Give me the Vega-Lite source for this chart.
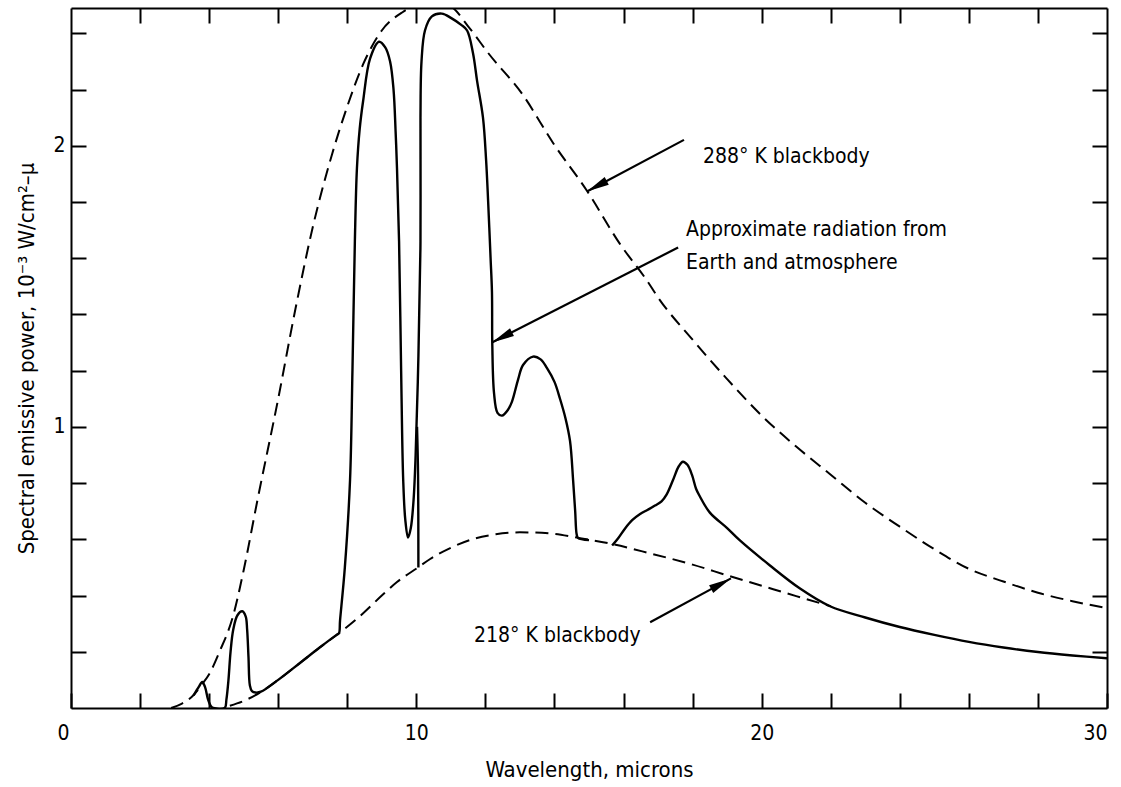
{
  "$schema": "https://vega.github.io/schema/vega-lite/v6.json",
  "width": 1036,
  "height": 700,
  "autosize": {"type": "none"},
  "padding": {"left": 71, "top": 8, "right": 14, "bottom": 79},
  "background": "white",
  "config": {
    "view": {"stroke": null},
    "font": "Liberation Sans Narrow, DejaVu Sans Condensed, sans-serif",
    "axis": {
      "domainColor": "black", "domainWidth": 2, "tickColor": "black", "tickWidth": 2,
      "tickSize": -15, "grid": false, "labelColor": "black", "titleColor": "black",
      "labelFont": "Liberation Sans Narrow, DejaVu Sans Condensed, sans-serif",
      "titleFont": "Liberation Sans Narrow, DejaVu Sans Condensed, sans-serif",
      "labelFontSize": 21, "titleFontSize": 22, "titleFontWeight": "normal"
    }
  },
  "datasets": {
    "bb288": [
      {"wl": 2.9, "p": 0}, {"wl": 3.2, "p": 0.015}, {"wl": 3.5, "p": 0.04}, {"wl": 3.8, "p": 0.085},
      {"wl": 4.0, "p": 0.12}, {"wl": 4.3, "p": 0.2}, {"wl": 4.7, "p": 0.33}, {"wl": 5.0, "p": 0.49},
      {"wl": 5.4, "p": 0.74}, {"wl": 6.0, "p": 1.1}, {"wl": 6.5, "p": 1.42}, {"wl": 7.0, "p": 1.71},
      {"wl": 7.56, "p": 1.97}, {"wl": 8.0, "p": 2.14}, {"wl": 8.46, "p": 2.29}, {"wl": 9.0, "p": 2.41},
      {"wl": 9.6, "p": 2.475}, {"wl": 10.0, "p": 2.5}, {"wl": 10.5, "p": 2.51}, {"wl": 11.0, "p": 2.495},
      {"wl": 11.5, "p": 2.425}, {"wl": 12.08, "p": 2.33}, {"wl": 13.09, "p": 2.18}, {"wl": 13.96, "p": 2.01},
      {"wl": 14.94, "p": 1.84}, {"wl": 15.9, "p": 1.65}, {"wl": 16.68, "p": 1.52}, {"wl": 17.0, "p": 1.46},
      {"wl": 18.0, "p": 1.31}, {"wl": 19.0, "p": 1.17}, {"wl": 20.0, "p": 1.04}, {"wl": 21.0, "p": 0.93},
      {"wl": 22.0, "p": 0.83}, {"wl": 23.0, "p": 0.73}, {"wl": 24.0, "p": 0.645}, {"wl": 25.0, "p": 0.565},
      {"wl": 26.0, "p": 0.495}, {"wl": 27.0, "p": 0.45}, {"wl": 28.0, "p": 0.41}, {"wl": 29.0, "p": 0.38},
      {"wl": 30.0, "p": 0.355}
    ],
    "bb218": [
      {"wl": 4.6, "p": 0.008}, {"wl": 5.0, "p": 0.025}, {"wl": 5.47, "p": 0.055}, {"wl": 6.0, "p": 0.1},
      {"wl": 6.63, "p": 0.16}, {"wl": 7.2, "p": 0.215}, {"wl": 7.76, "p": 0.266}, {"wl": 8.46, "p": 0.337},
      {"wl": 9.0, "p": 0.4}, {"wl": 9.44, "p": 0.448}, {"wl": 10.05, "p": 0.5}, {"wl": 10.4, "p": 0.53},
      {"wl": 11.0, "p": 0.57}, {"wl": 11.7, "p": 0.603}, {"wl": 12.3, "p": 0.618}, {"wl": 13.0, "p": 0.625},
      {"wl": 13.96, "p": 0.62}, {"wl": 14.65, "p": 0.606}, {"wl": 15.6, "p": 0.585}, {"wl": 16.77, "p": 0.55},
      {"wl": 18.0, "p": 0.51}, {"wl": 19.0, "p": 0.472}, {"wl": 20.0, "p": 0.435}, {"wl": 21.0, "p": 0.398},
      {"wl": 22.0, "p": 0.362}
    ],
    "earth": [
      {"seg": "a", "i": 1, "wl": 3.55, "p": 0.045}, {"seg": "a", "i": 2, "wl": 3.7, "p": 0.075},
      {"seg": "a", "i": 3, "wl": 3.8, "p": 0.093}, {"seg": "a", "i": 4, "wl": 3.88, "p": 0.075},
      {"seg": "a", "i": 5, "wl": 3.97, "p": 0.03}, {"seg": "a", "i": 6, "wl": 4.06, "p": 0.005},
      {"seg": "a", "i": 7, "wl": 4.12, "p": 0}, {"seg": "a", "i": 8, "wl": 4.45, "p": 0},
      {"seg": "a", "i": 9, "wl": 4.5, "p": 0.03}, {"seg": "a", "i": 10, "wl": 4.56, "p": 0.1},
      {"seg": "a", "i": 11, "wl": 4.62, "p": 0.2}, {"seg": "a", "i": 12, "wl": 4.7, "p": 0.28},
      {"seg": "a", "i": 13, "wl": 4.82, "p": 0.33}, {"seg": "a", "i": 14, "wl": 4.96, "p": 0.344},
      {"seg": "a", "i": 15, "wl": 5.06, "p": 0.325}, {"seg": "a", "i": 16, "wl": 5.1, "p": 0.28},
      {"seg": "a", "i": 17, "wl": 5.14, "p": 0.18}, {"seg": "a", "i": 18, "wl": 5.18, "p": 0.08},
      {"seg": "a", "i": 19, "wl": 5.24, "p": 0.06}, {"seg": "a", "i": 20, "wl": 5.35, "p": 0.055},
      {"seg": "a", "i": 21, "wl": 5.5, "p": 0.058}, {"seg": "a", "i": 22, "wl": 6.0, "p": 0.1},
      {"seg": "a", "i": 23, "wl": 6.63, "p": 0.16}, {"seg": "a", "i": 24, "wl": 7.2, "p": 0.215},
      {"seg": "a", "i": 25, "wl": 7.7, "p": 0.261}, {"seg": "a", "i": 26, "wl": 7.76, "p": 0.266},
      {"seg": "a", "i": 27, "wl": 7.79, "p": 0.31}, {"seg": "a", "i": 28, "wl": 7.93, "p": 0.5},
      {"seg": "a", "i": 29, "wl": 8.08, "p": 0.81}, {"seg": "a", "i": 30, "wl": 8.15, "p": 1.2},
      {"seg": "a", "i": 31, "wl": 8.22, "p": 1.66}, {"seg": "a", "i": 32, "wl": 8.28, "p": 1.92},
      {"seg": "a", "i": 33, "wl": 8.36, "p": 2.06}, {"seg": "a", "i": 34, "wl": 8.46, "p": 2.16},
      {"seg": "a", "i": 35, "wl": 8.66, "p": 2.31}, {"seg": "a", "i": 36, "wl": 8.92, "p": 2.37},
      {"seg": "a", "i": 37, "wl": 9.1, "p": 2.35}, {"seg": "a", "i": 38, "wl": 9.24, "p": 2.3},
      {"seg": "a", "i": 39, "wl": 9.34, "p": 2.2}, {"seg": "a", "i": 40, "wl": 9.4, "p": 2.05},
      {"seg": "a", "i": 41, "wl": 9.44, "p": 1.92}, {"seg": "a", "i": 42, "wl": 9.5, "p": 1.66},
      {"seg": "a", "i": 43, "wl": 9.56, "p": 1.2}, {"seg": "a", "i": 44, "wl": 9.62, "p": 0.81},
      {"seg": "a", "i": 45, "wl": 9.68, "p": 0.67}, {"seg": "a", "i": 46, "wl": 9.76, "p": 0.606},
      {"seg": "a", "i": 47, "wl": 9.84, "p": 0.64}, {"seg": "a", "i": 48, "wl": 9.92, "p": 0.74},
      {"seg": "a", "i": 49, "wl": 9.98, "p": 0.9}, {"seg": "a", "i": 50, "wl": 10.06, "p": 1.25},
      {"seg": "a", "i": 51, "wl": 10.12, "p": 1.66}, {"seg": "a", "i": 52, "wl": 10.12, "p": 2.1},
      {"seg": "a", "i": 53, "wl": 10.15, "p": 2.3}, {"seg": "a", "i": 54, "wl": 10.25, "p": 2.41},
      {"seg": "a", "i": 55, "wl": 10.45, "p": 2.46}, {"seg": "a", "i": 56, "wl": 10.74, "p": 2.47},
      {"seg": "a", "i": 57, "wl": 11.0, "p": 2.455}, {"seg": "a", "i": 58, "wl": 11.3, "p": 2.43},
      {"seg": "a", "i": 59, "wl": 11.47, "p": 2.41}, {"seg": "a", "i": 60, "wl": 11.64, "p": 2.33},
      {"seg": "a", "i": 61, "wl": 11.76, "p": 2.23}, {"seg": "a", "i": 62, "wl": 11.93, "p": 2.1},
      {"seg": "a", "i": 63, "wl": 12.02, "p": 1.95}, {"seg": "a", "i": 64, "wl": 12.08, "p": 1.8},
      {"seg": "a", "i": 65, "wl": 12.15, "p": 1.6}, {"seg": "a", "i": 66, "wl": 12.19, "p": 1.48},
      {"seg": "a", "i": 67, "wl": 12.2, "p": 1.29}, {"seg": "a", "i": 68, "wl": 12.25, "p": 1.12},
      {"seg": "a", "i": 69, "wl": 12.35, "p": 1.05}, {"seg": "a", "i": 70, "wl": 12.48, "p": 1.04},
      {"seg": "a", "i": 71, "wl": 12.65, "p": 1.06}, {"seg": "a", "i": 72, "wl": 12.77, "p": 1.09},
      {"seg": "a", "i": 73, "wl": 12.95, "p": 1.17}, {"seg": "a", "i": 74, "wl": 13.09, "p": 1.22},
      {"seg": "a", "i": 75, "wl": 13.38, "p": 1.25}, {"seg": "a", "i": 76, "wl": 13.6, "p": 1.24},
      {"seg": "a", "i": 77, "wl": 13.78, "p": 1.21}, {"seg": "a", "i": 78, "wl": 14.0, "p": 1.16},
      {"seg": "a", "i": 79, "wl": 14.16, "p": 1.1}, {"seg": "a", "i": 80, "wl": 14.32, "p": 1.03},
      {"seg": "a", "i": 81, "wl": 14.45, "p": 0.95}, {"seg": "a", "i": 82, "wl": 14.54, "p": 0.81},
      {"seg": "a", "i": 83, "wl": 14.6, "p": 0.7}, {"seg": "a", "i": 84, "wl": 14.64, "p": 0.62},
      {"seg": "a", "i": 85, "wl": 14.68, "p": 0.605}, {"seg": "a", "i": 86, "wl": 15.0, "p": 0.597},
      {"seg": "b", "i": 1, "wl": 10.06, "p": 0.5}, {"seg": "b", "i": 2, "wl": 10.05, "p": 0.83},
      {"seg": "b", "i": 3, "wl": 10.02, "p": 1.0},
      {"seg": "c", "i": 1, "wl": 15.67, "p": 0.578}, {"seg": "c", "i": 2, "wl": 15.85, "p": 0.605},
      {"seg": "c", "i": 3, "wl": 16.04, "p": 0.638}, {"seg": "c", "i": 4, "wl": 16.25, "p": 0.668},
      {"seg": "c", "i": 5, "wl": 16.48, "p": 0.69}, {"seg": "c", "i": 6, "wl": 16.7, "p": 0.705},
      {"seg": "c", "i": 7, "wl": 16.91, "p": 0.72}, {"seg": "c", "i": 8, "wl": 17.1, "p": 0.735},
      {"seg": "c", "i": 9, "wl": 17.25, "p": 0.76}, {"seg": "c", "i": 10, "wl": 17.43, "p": 0.81},
      {"seg": "c", "i": 11, "wl": 17.6, "p": 0.86}, {"seg": "c", "i": 12, "wl": 17.72, "p": 0.876},
      {"seg": "c", "i": 13, "wl": 17.85, "p": 0.865}, {"seg": "c", "i": 14, "wl": 17.98, "p": 0.83},
      {"seg": "c", "i": 15, "wl": 18.1, "p": 0.78}, {"seg": "c", "i": 16, "wl": 18.2, "p": 0.755},
      {"seg": "c", "i": 17, "wl": 18.5, "p": 0.695}, {"seg": "c", "i": 18, "wl": 19.0, "p": 0.64},
      {"seg": "c", "i": 19, "wl": 19.37, "p": 0.596}, {"seg": "c", "i": 20, "wl": 20.24, "p": 0.507},
      {"seg": "c", "i": 21, "wl": 21.1, "p": 0.426}, {"seg": "c", "i": 22, "wl": 21.98, "p": 0.362},
      {"seg": "c", "i": 23, "wl": 23.0, "p": 0.322}, {"seg": "c", "i": 24, "wl": 24.0, "p": 0.288},
      {"seg": "c", "i": 25, "wl": 25.0, "p": 0.26}, {"seg": "c", "i": 26, "wl": 26.0, "p": 0.235},
      {"seg": "c", "i": 27, "wl": 27.0, "p": 0.215}, {"seg": "c", "i": 28, "wl": 28.0, "p": 0.199},
      {"seg": "c", "i": 29, "wl": 29.0, "p": 0.187}, {"seg": "c", "i": 30, "wl": 30.0, "p": 0.177}
    ],
    "arrows": [
      {"id": "a288", "wl": 17.75, "p": 2.021, "wl2": 14.94, "p2": 1.837},
      {"id": "aearth", "wl": 17.58, "p": 1.638, "wl2": 12.19, "p2": 1.3},
      {"id": "a218", "wl": 16.77, "p": 0.305, "wl2": 19.11, "p2": 0.461}
    ],
    "labels": [
      {"wl": 18.3, "p": 1.961, "text": "288° K blackbody"},
      {"wl": 17.81, "p": 1.699, "text": "Approximate radiation from"},
      {"wl": 17.81, "p": 1.582, "text": "Earth and atmosphere"},
      {"wl": 11.67, "p": 0.255, "text": "218° K blackbody"}
    ]
  },
  "resolve": {"axis": {"x": "independent", "y": "independent"}},
  "layer": [
    {
      "data": {"name": "bb288"},
      "mark": {"type": "line", "color": "black", "strokeWidth": 2, "strokeDash": [13, 7], "clip": true, "interpolate": "monotone"},
      "encoding": {
        "x": {"field": "wl", "type": "quantitative", "scale": {"domain": [0, 30], "nice": false, "zero": false},
          "axis": {"orient": "bottom", "values": [0, 2, 4, 6, 8, 10, 12, 14, 16, 18, 20, 22, 24, 26, 28, 30],
            "labelExpr": "datum.value % 10 == 0 ? format(datum.value, 'd') : ''",
            "labelOffset": {"condition": {"test": "datum.value == 0", "value": -14}, "value": 0},
            "labelPadding": 29, "title": "Wavelength, microns", "titlePadding": 16}},
        "y": {"field": "p", "type": "quantitative", "scale": {"domain": [0, 2.49], "nice": false},
          "axis": {"orient": "left", "values": [0.2, 0.4, 0.6, 0.8, 1, 1.2, 1.4, 1.6, 1.8, 2, 2.2, 2.4],
            "labelExpr": "datum.value == 1 || datum.value == 2 ? format(datum.value, 'd') : ''",
            "labelPadding": 21, "title": "Spectral emissive power, 10⁻³ W/cm²–μ", "titlePadding": 14}}
      }
    },
    {
      "data": {"name": "bb288"},
      "mark": {"type": "point", "opacity": 0},
      "encoding": {
        "x": {"field": "wl", "type": "quantitative", "scale": {"domain": [0, 30], "nice": false, "zero": false},
          "axis": {"orient": "top", "values": [2, 4, 6, 8, 10, 12, 14, 16, 18, 20, 22, 24, 26, 28], "labels": false, "title": null}},
        "y": {"field": "p", "type": "quantitative", "scale": {"domain": [0, 2.49], "nice": false},
          "axis": {"orient": "right", "values": [0.2, 0.4, 0.6, 0.8, 1, 1.2, 1.4, 1.6, 1.8, 2, 2.2, 2.4], "labels": false, "title": null}}
      }
    },
    {
      "data": {"name": "bb218"},
      "mark": {"type": "line", "color": "black", "strokeWidth": 2, "strokeDash": [13, 7], "clip": true, "interpolate": "monotone"},
      "encoding": {
        "x": {"field": "wl", "type": "quantitative", "axis": null},
        "y": {"field": "p", "type": "quantitative", "axis": null}
      }
    },
    {
      "data": {"name": "earth"},
      "mark": {"type": "line", "color": "black", "strokeWidth": 2.4, "clip": true, "interpolate": "catmull-rom"},
      "encoding": {
        "x": {"field": "wl", "type": "quantitative", "axis": null},
        "y": {"field": "p", "type": "quantitative", "axis": null},
        "detail": {"field": "seg"},
        "order": {"field": "i", "type": "quantitative"}
      }
    },
    {
      "data": {"name": "arrows"},
      "mark": {"type": "rule", "color": "black", "strokeWidth": 2.2},
      "encoding": {
        "x": {"field": "wl", "type": "quantitative", "axis": null},
        "y": {"field": "p", "type": "quantitative", "axis": null},
        "x2": {"field": "wl2"},
        "y2": {"field": "p2"}
      }
    },
    {
      "data": {"name": "arrows"},
      "transform": [{"filter": "datum.id == 'a288'"}],
      "mark": {"type": "point", "shape": "M0,0L-0.5,2.6L0.5,2.6Z", "angle": 241.6, "filled": true, "color": "black", "opacity": 1, "size": 300},
      "encoding": {
        "x": {"field": "wl2", "type": "quantitative", "axis": null},
        "y": {"field": "p2", "type": "quantitative", "axis": null}
      }
    },
    {
      "data": {"name": "arrows"},
      "transform": [{"filter": "datum.id == 'aearth'"}],
      "mark": {"type": "point", "shape": "M0,0L-0.5,2.6L0.5,2.6Z", "angle": 242.7, "filled": true, "color": "black", "opacity": 1, "size": 300},
      "encoding": {
        "x": {"field": "wl2", "type": "quantitative", "axis": null},
        "y": {"field": "p2", "type": "quantitative", "axis": null}
      }
    },
    {
      "data": {"name": "arrows"},
      "transform": [{"filter": "datum.id == 'a218'"}],
      "mark": {"type": "point", "shape": "M0,0L-0.5,2.6L0.5,2.6Z", "angle": 61.5, "filled": true, "color": "black", "opacity": 1, "size": 300},
      "encoding": {
        "x": {"field": "wl2", "type": "quantitative", "axis": null},
        "y": {"field": "p2", "type": "quantitative", "axis": null}
      }
    },
    {
      "data": {"name": "labels"},
      "mark": {"type": "text", "align": "left", "baseline": "middle", "fontSize": 21, "color": "black",
        "font": "Liberation Sans Narrow, DejaVu Sans Condensed, sans-serif"},
      "encoding": {
        "x": {"field": "wl", "type": "quantitative", "axis": null},
        "y": {"field": "p", "type": "quantitative", "axis": null},
        "text": {"field": "text"}
      }
    }
  ]
}
